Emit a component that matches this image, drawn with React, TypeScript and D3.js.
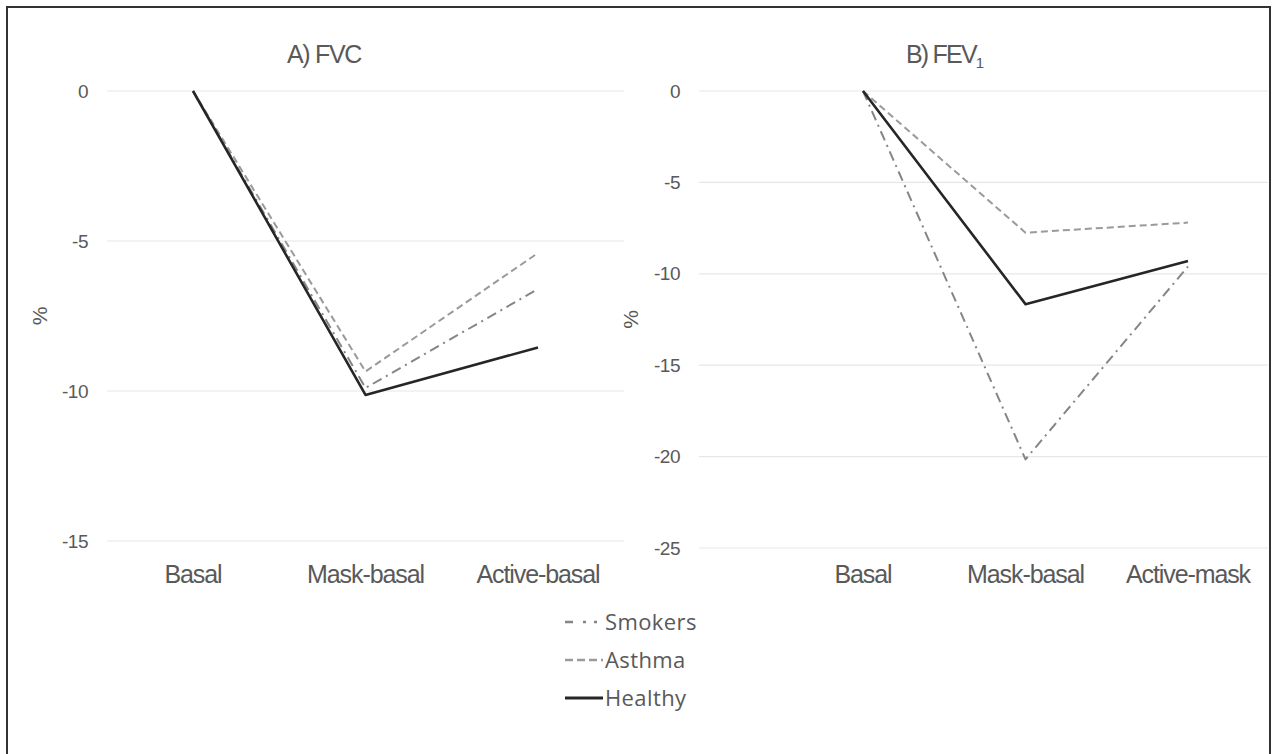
import React from "react";
import * as d3 from "d3";

const fvcCategories = ["Basal", "Mask-basal", "Active-basal"];
const fev1Categories = ["Basal", "Mask-basal", "Active-mask"];
const fvcTicks = [0, -5, -10, -15];
const fev1Ticks = [0, -5, -10, -15, -20, -25];

const seriesNames = ["Smokers", "Asthma", "Healthy"];
const fvcSmokers = [0, -9.9, -6.6];
const fvcAsthma = [0, -9.35, -5.4];
const fvcHealthy = [0, -10.13, -8.55];
const fev1Smokers = [0, -20.15, -9.6];
const fev1Asthma = [0, -7.75, -7.2];
const fev1Healthy = [0, -11.66, -9.3];

const styles: Record<string, { color: string; width: number; dash: string }> = {
  Smokers: { color: "#858585", width: 2, dash: "10,5,2,5" },
  Asthma: { color: "#9a9a9a", width: 2, dash: "7,4" },
  Healthy: { color: "#262626", width: 2.6, dash: "" },
};

const textColor = "#595959";
const axisFont = "'Liberation Sans', Arial, sans-serif";

type PanelProps = {
  title: React.ReactNode;
  categories: string[];
  ticks: number[];
  series: Record<string, number[]>;
  yDomain: [number, number];
  yRange: [number, number];
  xRange: [number, number];
  gridX: [number, number];
  tickLabelX: number;
  pctX: number;
};

function Panel(p: PanelProps) {
  const x = d3.scalePoint<string>().domain(p.categories).range(p.xRange);
  const y = d3.scaleLinear().domain(p.yDomain).range(p.yRange);
  const line = d3
    .line<[string, number]>()
    .x((d) => x(d[0]) as number)
    .y((d) => y(d[1]));
  return (
    <g>
      {p.ticks.map((t) => (
        <g key={t}>
          <line x1={p.gridX[0]} x2={p.gridX[1]} y1={y(t)} y2={y(t)} stroke="#e6e8e7" strokeWidth={1.2} />
          <text
            x={p.tickLabelX}
            y={y(t)}
            dy="0.35em"
            textAnchor="end"
            fontFamily={axisFont}
            fontSize={19}
            letterSpacing={-0.5}
            fill={textColor}
          >
            {t}
          </text>
        </g>
      ))}
      {p.categories.map((c) => (
        <text
          key={c}
          x={x(c)}
          y={583}
          textAnchor="middle"
          fontFamily={axisFont}
          fontSize={25}
          letterSpacing={-1.1}
          fill={textColor}
        >
          {c}
        </text>
      ))}
      <text
        transform={`translate(${p.pctX},${(p.yRange[0] + p.yRange[1]) / 2 + 0}) rotate(-90)`}
        textAnchor="middle"
        dy="0.35em"
        fontFamily={axisFont}
        fontSize={21}
        fill={textColor}
      >
        %
      </text>
      {p.title}
      {seriesNames.map((s) => {
        const st = styles[s];
        const pts = p.categories.map((c, i) => [c, p.series[s][i]] as [string, number]);
        return (
          <path
            key={s}
            d={line(pts) || ""}
            fill="none"
            stroke={st.color}
            strokeWidth={st.width}
            strokeDasharray={st.dash || undefined}
            strokeLinejoin="round"
          />
        );
      })}
    </g>
  );
}

export default function App() {
  const legendRows = [622, 660, 698];
  return (
    <svg
      width={1272}
      height={754}
      style={{ position: "absolute", left: 0, top: 0, background: "#fff" }}
    >
      <rect x={0} y={0} width={1272} height={754} fill="#fff" />
      <rect x={7} y={7} width={1263} height={760} fill="none" stroke="#333" strokeWidth={2} />
      <Panel
        title={
          <text x={324} y={63} textAnchor="middle" fontFamily={axisFont} fontSize={25} letterSpacing={-1.3} fill={textColor}>
            A) FVC
          </text>
        }
        categories={fvcCategories}
        ticks={fvcTicks}
        series={{ Smokers: fvcSmokers, Asthma: fvcAsthma, Healthy: fvcHealthy }}
        yDomain={[-15, 0]}
        yRange={[541, 91]}
        xRange={[193, 538]}
        gridX={[107, 624]}
        tickLabelX={88}
        pctX={40}
      />
      <Panel
        title={
          <text x={906} y={63} textAnchor="start" fontFamily={axisFont} fontSize={25} letterSpacing={-1.8} fill={textColor}>
            B) FEV
            <tspan fontSize={15} dy={5} letterSpacing={0}>
              1
            </tspan>
          </text>
        }
        categories={fev1Categories}
        ticks={fev1Ticks}
        series={{ Smokers: fev1Smokers, Asthma: fev1Asthma, Healthy: fev1Healthy }}
        yDomain={[-25, 0]}
        yRange={[548, 91]}
        xRange={[863, 1188]}
        gridX={[699, 1268]}
        tickLabelX={680}
        pctX={631}
      />
      {seriesNames.map((s, i) => {
        const st = styles[s];
        const yy = legendRows[i];
        return (
          <g key={s}>
            <line
              x1={565}
              x2={603}
              y1={yy}
              y2={yy}
              stroke={st.color}
              strokeWidth={st.width + 0.5}
              strokeDasharray={s === "Smokers" ? "8,10,3,8,3,10" : s === "Asthma" ? "8,4" : undefined}
            />
            <text
              x={605}
              y={yy}
              dy="0.35em"
              fontFamily="'Open Sans', 'Noto Sans', sans-serif"
              fontSize={22}
              letterSpacing={0.4}
              fill={textColor}
            >
              {s}
            </text>
          </g>
        );
      })}
    </svg>
  );
}
